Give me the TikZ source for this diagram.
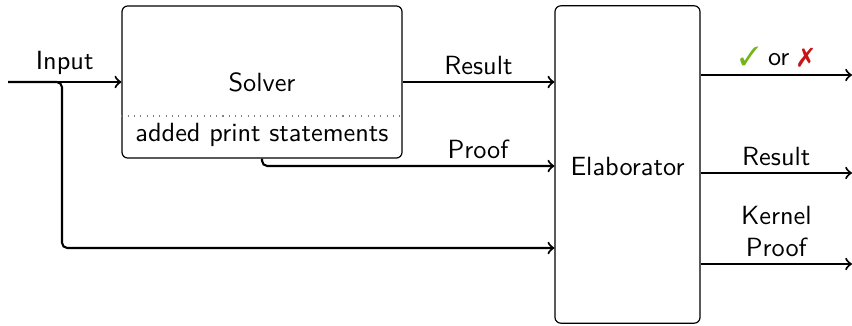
\documentclass[tikz,border=0pt]{standalone}
\usepackage{pifont}
\usetikzlibrary{calc}
\definecolor{okgreen}{RGB}{115,180,25}
\definecolor{badred}{RGB}{200,20,20}
\begin{document}
\begin{tikzpicture}[x=0.38pt,y=-0.38pt,
  font=\sffamily,
  box/.style={draw, rounded corners=2.2pt, line width=0.45pt, inner sep=0pt},
  conn/.style={->, line width=0.8pt, rounded corners=2pt},
  lbl/.style={above, inner sep=2.5pt}]
\useasboundingbox (0,0) rectangle (852,325);

% boxes
\node[box, minimum width=106.4pt, minimum height=57.8pt] (solver) at (262,82) {};
\node[box, minimum width=55.1pt, minimum height=120.6pt] (elab) at (627.5,164.5) {};
\node (solvertxt) at (262,82) {Solver};
\node (printtxt) at (262,135) {added print statements};
\node (elabtxt) at (627.5,167) {Elaborator};
\draw[dotted, line width=0.4pt, gray] (solver.west |- 0,116) -- (solver.east |- 0,116);

% input side
\coordinate (in) at (8,82);
\coordinate (split) at (62,82);
\draw[conn] (in) -- node[lbl, pos=0.5] {Input} (solver.west);
\draw[conn] (in) -- (split) -- (62,248) -- (elab.west |- 0,248);

% solver to elaborator
\draw[conn] (solver.east) -- node[lbl] {Result} (elab.west |- solver.east);
\coordinate (proofbend) at (262,166);
\draw[conn] (solver.south) -- (proofbend) -- (elab.west |- proofbend);
\node[lbl] (prooflbl) at (478,166) {Proof};

% outputs
\coordinate (o1) at (852,75);
\coordinate (o2) at (852,173);
\coordinate (o3) at (852,264);
\draw[conn] (elab.east |- o1) -- node[lbl] {{\color{okgreen}\ding{51}} or {\color{badred}\ding{55}}} (o1);
\draw[conn] (elab.east |- o2) -- node[lbl] {Result} (o2);
\draw[conn] (elab.east |- o3) -- node[lbl, align=center] {Kernel\\Proof} (o3);
\end{tikzpicture}
\end{document}
